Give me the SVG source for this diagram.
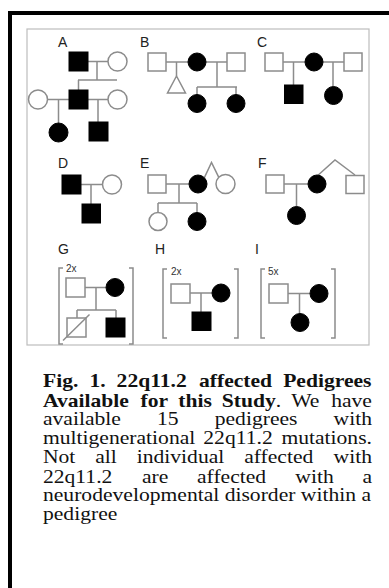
<svg xmlns="http://www.w3.org/2000/svg" width="389" height="588" viewBox="0 0 389 588">
<style>
.frame{fill:none;stroke:#000;stroke-width:4}
.box{fill:none;stroke:#bdbdbd;stroke-width:1.2}
.ln{fill:none;stroke:#8c8c8c;stroke-width:1.5}
.un{fill:#fff;stroke:#8c8c8c;stroke-width:1.5}
.af{fill:#000;stroke:#000;stroke-width:1}
.lbl{font-family:"Liberation Sans",Arial,sans-serif;font-size:14px;fill:#222}
.mul{font-family:"Liberation Sans",Arial,sans-serif;font-size:10px;fill:#333}
.cap{font-family:"Liberation Serif","Times New Roman",serif;font-size:18px;fill:#111}
.b{font-weight:bold}
</style>
<rect width="389" height="588" fill="#fff"/>
<rect class="frame" x="10" y="13" width="400" height="600"/>
<rect class="box" x="27" y="29" width="342" height="316"/>

<g id="connectors">
  <!-- A -->
  <path class="ln" d="M88 61.5H108M97 61.5V80M78 80H117M78.5 80V90M47.5 99.5H69M88 99.5H108M58.5 99.5V123M98 99.5V122"/>
  <!-- B -->
  <path class="ln" d="M166 62H188M176.5 62V76M206 62H227M217 62V87M197 87H237M197 87V94.5M236 87V94.5"/>
  <!-- C -->
  <path class="ln" d="M283 62H305M293.5 62V85M323 62H344M333 62V86.5"/>
  <!-- D -->
  <path class="ln" d="M81 184.5H102.5M91 184.5V204"/>
  <!-- E -->
  <path class="ln" d="M166 184H189M179 184V203M158 203H197M158 203V212.5M197 203V212.5M204.4 177.6L211.5 162.5L218.8 177.3"/>
  <!-- F -->
  <path class="ln" d="M284 184H308M296.5 184V206.5M318 175.2L335 160L355 175"/>
  <!-- G -->
  <path class="ln" d="M85 287.5H106M96 287.5V310M77 310H116M77 310V318M116 310V318"/>
  <!-- H -->
  <path class="ln" d="M190 293H212M201 293V312"/>
  <!-- I -->
  <path class="ln" d="M288 293.5H310M299.5 293.5V313.5"/>
  <!-- brackets -->
  <path class="ln" d="M63 268H59V344H63M129 268H133V344H129"/>
  <path class="ln" d="M167 269H163V338H167M234 269H238V338H234"/>
  <path class="ln" d="M265 269H261V338H265M331 269H335V338H331"/>
</g>

<g id="pedigree-A">
  <text class="lbl" x="58" y="47">A</text>
  <g id="A-I1"><rect class="af" x="69" y="52" width="19" height="19"/></g>
  <g id="A-I2"><circle class="un" cx="117.5" cy="61.5" r="9.5"/></g>
  <g id="A-II1"><circle class="un" cx="38" cy="99.5" r="9.5"/></g>
  <g id="A-II2"><rect class="af" x="69" y="90" width="19" height="19"/></g>
  <g id="A-II3"><circle class="un" cx="117.5" cy="99.5" r="9.5"/></g>
  <g id="A-III1"><circle class="af" cx="58.5" cy="132.5" r="9.5"/></g>
  <g id="A-III2"><rect class="af" x="89" y="122" width="19" height="19"/></g>
</g>

<g id="pedigree-B">
  <text class="lbl" x="140" y="47">B</text>
  <g id="B-I1"><rect class="un" x="148" y="53" width="18" height="18"/></g>
  <g id="B-I2"><circle class="af" cx="197" cy="62" r="9"/></g>
  <g id="B-I3"><rect class="un" x="227" y="53" width="18" height="18"/></g>
  <g id="B-II1"><polygon class="un" points="176.5,76 167.5,93 185.5,93"/></g>
  <g id="B-II2"><circle class="af" cx="197" cy="103.5" r="9"/></g>
  <g id="B-II3"><circle class="af" cx="236" cy="103.5" r="9"/></g>
</g>

<g id="pedigree-C">
  <text class="lbl" x="257" y="47">C</text>
  <g id="C-I1"><rect class="un" x="265" y="53" width="18" height="18"/></g>
  <g id="C-I2"><circle class="af" cx="314" cy="62" r="9"/></g>
  <g id="C-I3"><rect class="un" x="344" y="53" width="18" height="18"/></g>
  <g id="C-II1"><rect class="af" x="284.5" y="85" width="18.5" height="18.5"/></g>
  <g id="C-II2"><circle class="af" cx="333.5" cy="95.5" r="9"/></g>
</g>

<g id="pedigree-D">
  <text class="lbl" x="58" y="168">D</text>
  <g id="D-I1"><rect class="af" x="62" y="175" width="19" height="19"/></g>
  <g id="D-I2"><circle class="un" cx="112" cy="184.5" r="9.5"/></g>
  <g id="D-II1"><rect class="af" x="82" y="204" width="18.5" height="19"/></g>
</g>

<g id="pedigree-E">
  <text class="lbl" x="140" y="168">E</text>
  <g id="E-I1"><rect class="un" x="148" y="175" width="18" height="18"/></g>
  <g id="E-I2"><circle class="af" cx="198" cy="184" r="9"/></g>
  <g id="E-I3"><circle class="un" cx="225.5" cy="184" r="9.5"/></g>
  <g id="E-II1"><circle class="un" cx="158" cy="221.5" r="9"/></g>
  <g id="E-II2"><circle class="af" cx="197" cy="221.5" r="9"/></g>
</g>

<g id="pedigree-F">
  <text class="lbl" x="258" y="168">F</text>
  <g id="F-I1"><rect class="un" x="266" y="175" width="18" height="18"/></g>
  <g id="F-I2"><circle class="af" cx="317" cy="184" r="9"/></g>
  <g id="F-I3"><rect class="un" x="346" y="175.5" width="18" height="18"/></g>
  <g id="F-II1"><circle class="af" cx="296.5" cy="215.5" r="9"/></g>
</g>

<g id="pedigree-G">
  <text class="lbl" x="58" y="254">G</text>
  <text class="mul" x="66" y="272">2x</text>
  <g id="G-I1"><rect class="un" x="66" y="278" width="19" height="19"/></g>
  <g id="G-I2"><circle class="af" cx="115" cy="287.5" r="9"/></g>
  <g id="G-II1"><rect class="un" x="67" y="318" width="19" height="19"/><path class="ln" d="M63 340.5L89.5 314.5"/></g>
  <g id="G-II2"><rect class="af" x="106" y="318" width="19" height="19"/></g>
</g>

<g id="pedigree-H">
  <text class="lbl" x="155" y="254">H</text>
  <text class="mul" x="171" y="275">2x</text>
  <g id="H-I1"><rect class="un" x="171" y="284" width="19" height="19"/></g>
  <g id="H-I2"><circle class="af" cx="221" cy="293" r="9"/></g>
  <g id="H-II1"><rect class="af" x="192" y="312" width="19" height="18.5"/></g>
</g>

<g id="pedigree-I">
  <text class="lbl" x="255" y="254">I</text>
  <text class="mul" x="268" y="275">5x</text>
  <g id="I-I1"><rect class="un" x="269" y="284" width="19" height="19"/></g>
  <g id="I-I2"><circle class="af" cx="319" cy="293.5" r="9"/></g>
  <g id="I-II1"><circle class="af" cx="300" cy="322.5" r="9"/></g>
</g>

<g id="caption" transform="matrix(1.2 0 0 1 0 0)">
  <text class="cap b" y="387"><tspan x="35.83">Fig.</tspan><tspan x="74.5">1.</tspan><tspan x="97.17">22q11.2</tspan><tspan x="165.83">affected</tspan><tspan x="236">Pedigrees</tspan></text>
  <text class="cap" y="407"><tspan class="b" x="35.83">Available</tspan><tspan class="b" x="117.17">for</tspan><tspan class="b" x="148.5">this</tspan><tspan class="b" x="184.83">Study</tspan><tspan>.</tspan><tspan x="242.67">We</tspan><tspan x="276">have</tspan></text>
  <text class="cap" y="425"><tspan x="35.83">available</tspan><tspan x="130.89">15</tspan><tspan x="178.94">pedigrees</tspan><tspan x="278">with</tspan></text>
  <text class="cap" y="444"><tspan x="35.83">multigenerational</tspan><tspan x="169.42">22q11.2</tspan><tspan x="234.5">mutations.</tspan></text>
  <text class="cap" y="463"><tspan x="35.83">Not</tspan><tspan x="79.38">all</tspan><tspan x="113.92">individual</tspan><tspan x="203.46">affected</tspan><tspan x="278">with</tspan></text>
  <text class="cap" y="483"><tspan x="35.83">22q11.2</tspan><tspan x="118.25">are</tspan><tspan x="164.17">affected</tspan><tspan x="246.08">with</tspan><tspan x="302">a</tspan></text>
  <text class="cap" x="35.83" y="501">neurodevelopmental disorder within a</text>
  <text class="cap" x="35.83" y="520">pedigree</text>
</g>
</svg>
